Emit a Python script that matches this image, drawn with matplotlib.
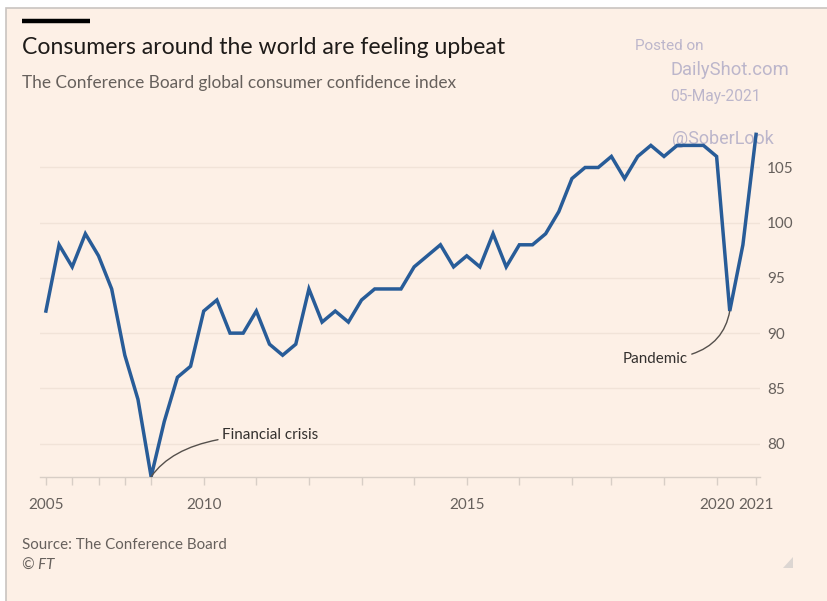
import numpy as np
import matplotlib
matplotlib.use("Agg")
import matplotlib.pyplot as plt
from matplotlib.patches import Rectangle, Polygon
from matplotlib.lines import Line2D

# Conference Board global consumer confidence index
# (half-yearly until 2008, quarterly afterwards; a couple of quarters missing)
obs_year = ([2005] * 2 + [2006] * 2 + [2007] * 2 + [2008] * 2
            + [2009] * 4 + [2010] * 4 + [2011] * 4 + [2012] * 4
            + [2013] * 4 + [2014] * 4 + [2015] * 4 + [2016] * 4
            + [2017] * 3 + [2018] * 4 + [2019] * 4 + [2020] * 3 + [2021] * 1)
index_values = [92, 98, 96, 99, 97, 94, 88, 84,
                77, 82, 86, 87,
                92, 93, 90, 90,
                92, 89, 88, 89,
                94, 91, 92, 91,
                93, 94, 94, 94,
                96, 97, 98, 96,
                97, 96, 99, 96,
                98, 98, 99, 101,
                104, 105, 105,
                106, 104, 106, 107,
                106, 107, 107, 107,
                106, 92, 98,
                108]
y_ticks = [80, 85, 90, 95, 100, 105]
labelled_years = [2005, 2010, 2015, 2020, 2021]

BG = "#fdf0e6"
TEXT = "#33302e"
GREY = "#66605c"
LINE = "#285c98"
WM = "#bcb6cb"
FONT = "Lato"

W, H = 827, 601
fig = plt.figure(figsize=(W / 100, H / 100), dpi=100, facecolor="white")


def fx(px):
    return px / W


def fy(py):
    return 1 - py / H


# page panel with a thin grey frame on top/left
fig.add_artist(Rectangle((fx(6), -0.01), 1.02, fy(7.5) + 0.01,
                         transform=fig.transFigure, facecolor=BG,
                         edgecolor="#c9c4c0", linewidth=1.2, zorder=-10))
# black bar above the title
fig.add_artist(Line2D([fx(22), fx(90)], [fy(21), fy(21)], color="black",
                      linewidth=3.2, solid_capstyle="butt"))

fig.text(fx(22), fy(47), "Consumers around the world are feeling upbeat",
         fontsize=16.6, color="#1e1b19", family=FONT, va="center")
fig.text(fx(22), fy(83), "The Conference Board global consumer confidence index",
         fontsize=12.4, color=GREY, family=FONT, va="center")
fig.text(fx(22), fy(545), "Source: The Conference Board",
         fontsize=10.9, color=GREY, family=FONT, va="center")
fig.text(fx(22), fy(566), "\u00a9 FT", fontsize=10.9, color=GREY,
         family=FONT, style="italic", va="center")

# small grip mark in the corner
fig.add_artist(Polygon([[fx(793), fy(557)], [fx(793), fy(568)], [fx(783), fy(568)]],
                       closed=True, transform=fig.transFigure,
                       facecolor="#dcd6d2", edgecolor="none"))

ax = fig.add_axes([fx(40), fy(476.7), fx(720), (476.7 - 120) / H])
ax.patch.set_visible(False)

x = np.arange(len(index_values))
ax.plot(x, index_values, color=LINE, linewidth=2.5, solid_joinstyle="miter",
        zorder=3)

ax.set_xlim(-0.45, len(index_values) - 1 + 0.3)
ax.set_ylim(77, 109.3)

# year ticks at the first observation of each year
years = sorted(set(obs_year))
tick_pos = [obs_year.index(yr) for yr in years]
ax.set_xticks(tick_pos)
ax.set_xticklabels([str(yr) if yr in labelled_years else "" for yr in years])
ax.tick_params(axis="x", length=6, width=1, color="#d8cec6", pad=9,
               labelsize=11, labelcolor=GREY)
for lab in ax.get_xticklabels():
    lab.set_family(FONT)

ax.set_yticks(y_ticks)
ax.yaxis.tick_right()
ax.tick_params(axis="y", length=0, pad=5, labelsize=11, labelcolor=GREY)
for lab in ax.get_yticklabels():
    lab.set_family(FONT)
ax.grid(axis="y", color="#f1e3d8", linewidth=1)
ax.set_axisbelow(True)

for side in ["top", "right", "left"]:
    ax.spines[side].set_visible(False)
ax.spines["bottom"].set_color("#d8cec6")
ax.spines["bottom"].set_linewidth(1)

# annotations
i_crisis = int(np.argmin(index_values))
ax.annotate("Financial crisis", xy=(i_crisis, index_values[i_crisis]),
            xytext=(13.4, 80.75), textcoords="data", ha="left", va="center",
            fontsize=10.9, color=TEXT, family=FONT,
            arrowprops=dict(arrowstyle="-", color="#55504c", lw=1,
                            shrinkA=1, shrinkB=0,
                            connectionstyle="angle3,angleA=0,angleB=55"))
start_2020 = obs_year.index(2020)
i_pand = start_2020 + int(np.argmin(index_values[start_2020:]))
ax.annotate("Pandemic", xy=(i_pand, index_values[i_pand]),
            xytext=(48.8, 87.65), textcoords="data", ha="right", va="center",
            fontsize=10.9, color=TEXT, family=FONT,
            arrowprops=dict(arrowstyle="-", color="#55504c", lw=1,
                            shrinkA=1, shrinkB=0,
                            connectionstyle="angle3,angleA=0,angleB=80"))

# "posted on" stamp, kept underneath the line
wm = dict(transform=fig.transFigure, family="Roboto", color=WM, va="center",
          ha="left", zorder=1, clip_on=False)
ax.text(fx(635), fy(46), "Posted on", fontsize=11, **wm)
ax.text(fx(671), fy(70), "DailyShot.com", fontsize=13.2, **wm)
ax.text(fx(670), fy(97), "05-May-2021", fontsize=11.2, **wm)
ax.text(fx(672), fy(139), "@SoberLook", fontsize=13, **wm)

fig.savefig("out.png", dpi=100, facecolor=fig.get_facecolor())
